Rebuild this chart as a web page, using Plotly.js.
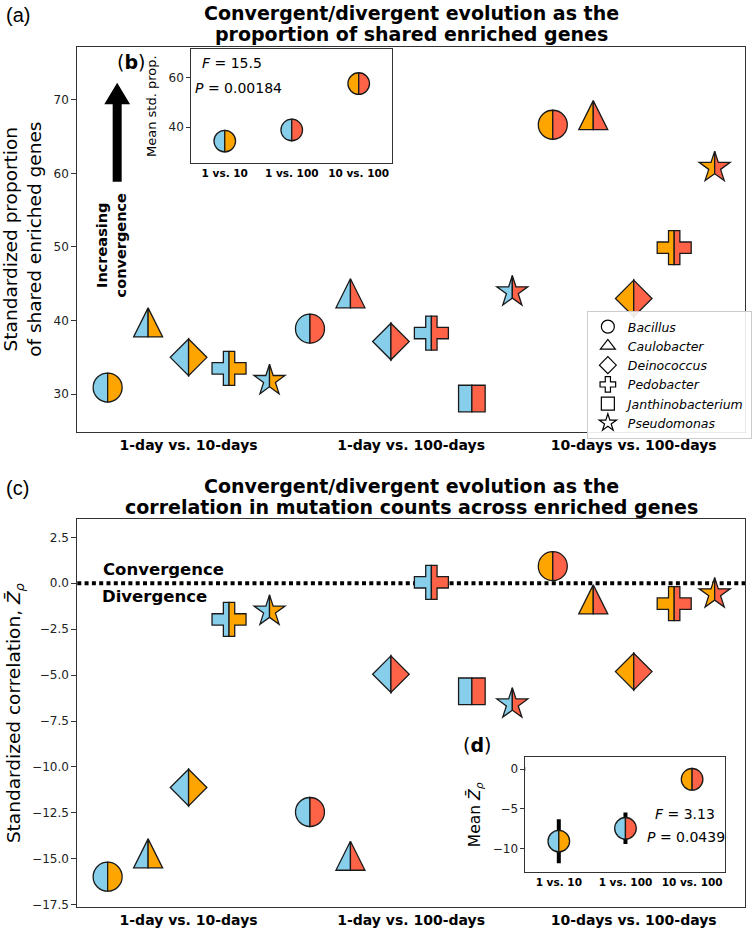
<!DOCTYPE html>
<html><head><meta charset="utf-8">
<script src="https://cdn.plot.ly/plotly-3.0.1.min.js"></script>
<style>body{margin:0;background:#fff}#chart{width:752px;height:939px}</style>
</head><body><div id="chart"></div>
<script>
// ---------------- DATA ----------------
const comparisons = ['1-day vs. 10-days', '1-day vs. 100-days', '10-days vs. 100-days'];
const insetLabels = ['1 vs. 10', '1 vs. 100', '10 vs. 100'];
const species = ['Bacillus', 'Caulobacter', 'Deinococcus', 'Pedobacter', 'Janthinobacterium', 'Pseudomonas'];
const speciesKinds = ['circle', 'triangle', 'diamond', 'cross', 'square', 'star'];
const legendSymbols = ['circle-open', 'triangle-up-open', 'diamond-open', 'cross-open', 'square-open', 'star-open'];

// (a) standardized proportion of shared enriched genes, per comparison
const propBacillus = [30.9, 38.9, 66.6];
const propCaulobacter = [39.75, 43.7, 67.9];
const propDeinococcus = [35.0, 37.15, 43.0];
const propPedobacter = [33.5, 38.3, 49.9];
const propJanthinobacterium = [null, 29.4, null];
const propPseudomonas = [31.85, 43.9, 60.8];

// (c) standardized correlation, per comparison
const corrBacillus = [-15.97, -12.45, 0.93];
const corrCaulobacter = [-14.7, -14.83, -0.88];
const corrDeinococcus = [-11.12, -4.95, -4.81];
const corrPedobacter = [-1.97, 0.05, -1.11];
const corrJanthinobacterium = [null, -5.88, null];
const corrPseudomonas = [-1.52, -6.57, -0.58];

// (b) and (d) insets
const meanProp = [34.3, 38.8, 57.6];
const meanCorr = [-9.05, -7.44, -1.29];
const meanCorrErr = [2.76, 1.97, 0.9];

const leftColors = ['#87CEEB', '#87CEEB', '#FFA500'];
const rightColors = ['#FFA500', '#FF6347', '#FF6347'];

const propBySpecies = [propBacillus, propCaulobacter, propDeinococcus, propPedobacter, propJanthinobacterium, propPseudomonas];
const corrBySpecies = [corrBacillus, corrCaulobacter, corrDeinococcus, corrPedobacter, corrJanthinobacterium, corrPseudomonas];

// ---------------- HELPERS ----------------
const FONT = 'DejaVu Sans';
const GEOM = {circle: 14.5, triangle: 14.5, diamond: 18.3, cross: 17, square: 13.3, star: 16.3};
const EDGE = '#1a1a1a';

function halfPath(kind, side, a) {
  const P = (x, y) => (side * x === 0 ? 0 : side * x).toFixed(2) + ',' + y.toFixed(2);
  if (kind === 'circle') {
    const k = 0.5523;
    return 'M' + P(0, a) + ' C' + P(k * a, a) + ' ' + P(a, k * a) + ' ' + P(a, 0) +
      ' C' + P(a, -k * a) + ' ' + P(k * a, -a) + ' ' + P(0, -a) + ' Z';
  }
  let pts;
  if (kind === 'triangle') pts = [[0, a], [a, -a], [0, -a]];
  else if (kind === 'diamond') pts = [[0, a], [a, 0], [0, -a]];
  else if (kind === 'square') pts = [[0, a], [a, a], [a, -a], [0, -a]];
  else if (kind === 'cross') { const w = a / 3; pts = [[0, a], [w, a], [w, w], [a, w], [a, -w], [w, -w], [w, -a], [0, -a]]; }
  else if (kind === 'star') {
    const ri = a * 0.381966; pts = [[0, a]];
    for (let i = 1; i <= 4; i++) {
      const ang = (90 - 36 * i) * Math.PI / 180; const r = (i % 2) ? ri : a;
      pts.push([r * Math.cos(ang), r * Math.sin(ang)]);
    }
    pts.push([0, -ri]);
  }
  return 'M' + pts.map(p => P(p[0], p[1])).join(' L') + ' Z';
}

function halfShapes(xref, yref, x, y, kind, size, cIdx) {
  const base = {type: 'path', xref: xref, yref: yref, xsizemode: 'pixel', ysizemode: 'pixel',
    xanchor: x, yanchor: y, layer: 'above', line: {color: EDGE, width: 1.3}};
  return [
    Object.assign({}, base, {path: halfPath(kind, -1, size), fillcolor: leftColors[cIdx]}),
    Object.assign({}, base, {path: halfPath(kind, 1, size), fillcolor: rightColors[cIdx]})
  ];
}

function layoutPoints(bySpecies) {
  const pts = []; const groups = [[], [], []]; let idx = 0;
  for (let c = 0; c < comparisons.length; c++) {
    for (let s = 0; s < species.length; s++) {
      const v = bySpecies[s][c];
      if (v === null) continue;
      pts.push({c: c, s: s, x: idx, y: v}); groups[c].push(idx); idx++;
    }
  }
  const ticks = groups.map(g => (g[0] + g[g.length - 1]) / 2);
  return {pts: pts, ticks: ticks, n: idx};
}

const A = layoutPoints(propBySpecies);
const C = layoutPoints(corrBySpecies);

const traces = [];
const shapes = [];

function addMain(L, xa, ya, label) {
  for (let s = 0; s < species.length; s++) {
    const p = L.pts.filter(q => q.s === s);
    traces.push({type: 'scatter', mode: 'markers', x: p.map(q => q.x), y: p.map(q => q.y),
      xaxis: xa, yaxis: ya, name: species[s], showlegend: false,
      marker: {size: 28, opacity: 0}, hovertemplate: species[s] + ' ' + label + ': %{y}<extra></extra>'});
    p.forEach(q => halfShapes(xa, ya, q.x, q.y, speciesKinds[s], GEOM[speciesKinds[s]], q.c).forEach(sh => shapes.push(sh)));
  }
}
addMain(A, 'x', 'y', 'prop');
addMain(C, 'x3', 'y3', 'corr');

// legend entries
for (let s = 0; s < species.length; s++) {
  traces.push({type: 'scatter', mode: 'markers', x: [null], y: [null], xaxis: 'x', yaxis: 'y',
    name: species[s], showlegend: true,
    marker: {symbol: legendSymbols[s], size: 13, color: '#000', line: {color: '#000', width: 1.2}}});
}

// inset (b)
const insetX = insetLabels.map((_, i) => i);
traces.push({type: 'scatter', mode: 'markers', x: insetX, y: meanProp, xaxis: 'x2', yaxis: 'y2',
  showlegend: false, marker: {size: 21, opacity: 0}});
insetX.forEach((x, i) => halfShapes('x2', 'y2', x, meanProp[i], 'circle', 10.8, i).forEach(sh => shapes.push(sh)));

// inset (d)
traces.push({type: 'scatter', mode: 'markers', x: insetX, y: meanCorr, xaxis: 'x4', yaxis: 'y4',
  showlegend: false, marker: {size: 21, opacity: 0},
  error_y: {type: 'data', array: meanCorrErr, visible: true, color: '#000', thickness: 4, width: 0}});
insetX.forEach((x, i) => halfShapes('x4', 'y4', x, meanCorr[i], 'circle', 10.8, i).forEach(sh => shapes.push(sh)));

// reference lines at zero
shapes.push({type: 'line', xref: 'x3 domain', yref: 'y3', x0: 0, x1: 1, y0: 0, y1: 0, layer: 'below',
  line: {color: '#000', width: 4, dash: '4px,3.3px'}});
shapes.push({type: 'line', xref: 'x4 domain', yref: 'y4', x0: 0, x1: 1, y0: 0, y1: 0, layer: 'below',
  line: {color: '#000', width: 4, dash: '4px,3.3px'}});

// big arrow (decoration)
shapes.push({type: 'path', xref: 'paper', yref: 'paper', xsizemode: 'pixel', ysizemode: 'pixel',
  xanchor: 117.8 / 752, yanchor: 1 - 82.7 / 939, layer: 'above',
  path: 'M0,0 L12.9,-21.6 L4.5,-21.6 L4.5,-99 L-4.5,-99 L-4.5,-21.6 L-12.9,-21.6 Z',
  fillcolor: '#000', line: {width: 0}});

const W = 752, H = 939;
const px = v => v / W, py = v => 1 - v / H;
const LINE = '#333';

function mainX(anchor, ticks) {
  return {domain: [px(77.7), px(749)], anchor: anchor, range: [-0.75, 15.75],
    tickmode: 'array', tickvals: ticks, ticktext: comparisons, ticks: '',
    tickfont: {family: FONT, size: 14, color: '#000', weight: 'bold'},
    showline: true, mirror: true, linecolor: LINE, linewidth: 1, showgrid: false, zeroline: false};
}
function yBase() {
  return {ticks: 'outside', ticklen: 5, tickwidth: 1, tickcolor: LINE, showline: true, mirror: true,
    linecolor: LINE, linewidth: 1, showgrid: false, zeroline: false,
    tickfont: {family: FONT, size: 12, color: '#222'}};
}

const layout = {
  width: W, height: H, margin: {l: 0, r: 0, t: 0, b: 0},
  paper_bgcolor: '#fff', plot_bgcolor: '#fff', font: {family: FONT, color: '#000'},
  showlegend: true,
  legend: {x: px(590), y: py(311), xanchor: 'left', yanchor: 'top', bgcolor: 'rgba(255,255,255,0.9)',
    bordercolor: '#cccccc', borderwidth: 1, itemsizing: 'trace', tracegroupgap: 0,
    font: {family: FONT, size: 12.5, style: 'italic', color: '#000'}},
  xaxis: mainX('y', A.ticks),
  yaxis: Object.assign(yBase(), {domain: [py(431.7), py(46.7)], anchor: 'x', range: [24.9, 77.2], dtick: 10, tick0: 0,
    title: {text: 'Standardized proportion<br>of shared enriched genes', font: {family: FONT, size: 18.5, color: '#000'}, standoff: 9}}),
  xaxis3: mainX('y3', C.ticks),
  yaxis3: Object.assign(yBase(), {domain: [py(907), py(519.3)], anchor: 'x3', range: [-17.62, 3.48], dtick: 2.5, tick0: 0, tickformat: '.1f',
    title: {text: 'Standardized correlation, <i>Z\u0304</i><sub><i>ρ</i></sub>', font: {family: FONT, size: 18.5, color: '#000'}, standoff: 6}}),
  xaxis2: {domain: [px(192.3), px(394.3)], anchor: 'y2', range: [-0.5, 2.5], tickmode: 'array', tickvals: insetX, ticktext: insetLabels,
    ticks: '', tickfont: {family: FONT, size: 10.5, color: '#000', weight: 'bold'},
    showline: true, mirror: true, linecolor: LINE, linewidth: 1, showgrid: false, zeroline: false},
  yaxis2: Object.assign(yBase(), {domain: [py(163.3), py(49)], anchor: 'x2', range: [25.3, 71.6], dtick: 20, tick0: 0, ticklen: 4,
    title: {text: 'Mean std. prop.', font: {family: FONT, size: 13, color: '#000'}, standoff: 9}}),
  xaxis4: {domain: [px(528.3), px(729.3)], anchor: 'y4', range: [-0.5, 2.5], tickmode: 'array', tickvals: insetX, ticktext: insetLabels,
    ticks: '', tickfont: {family: FONT, size: 10.5, color: '#000', weight: 'bold'},
    showline: true, mirror: true, linecolor: LINE, linewidth: 1, showgrid: false, zeroline: false},
  yaxis4: Object.assign(yBase(), {domain: [py(872.3), py(757.3)], anchor: 'x4', range: [-12.96, 1.47], dtick: 5, tick0: 0, ticklen: 4,
    title: {text: 'Mean <i>Z\u0304</i><sub><i>ρ</i></sub>', font: {family: FONT, size: 15.5, color: '#000'}, standoff: 8}}),
  shapes: shapes,
  annotations: [
    {xref: 'paper', yref: 'paper', x: px(4), y: py(15), xanchor: 'left', yanchor: 'middle', showarrow: false,
      text: '(a)', font: {family: 'Liberation Sans', size: 20, color: '#000'}},
    {xref: 'paper', yref: 'paper', x: px(413.4), y: py(13), xanchor: 'center', yanchor: 'middle', showarrow: false,
      text: 'Convergent/divergent evolution as the', font: {family: FONT, size: 19, color: '#000', weight: 'bold'}},
    {xref: 'paper', yref: 'paper', x: px(413.4), y: py(34), xanchor: 'center', yanchor: 'middle', showarrow: false,
      text: 'proportion of shared enriched genes', font: {family: FONT, size: 19, color: '#000', weight: 'bold'}},
    {xref: 'paper', yref: 'paper', x: px(116), y: py(62), xanchor: 'left', yanchor: 'middle', showarrow: false,
      text: '(<b>b</b>)', font: {family: FONT, size: 19, color: '#000'}},
    {xref: 'paper', yref: 'paper', x: px(112), y: py(245), xanchor: 'center', yanchor: 'middle', showarrow: false, textangle: -90,
      text: 'Increasing<br>convergence', font: {family: FONT, size: 14.5, color: '#000', weight: 'bold'}},
    {xref: 'paper', yref: 'paper', x: px(201), y: py(63), xanchor: 'left', yanchor: 'middle', showarrow: false,
      text: '<i>F</i> = 15.5', font: {family: FONT, size: 14, color: '#000'}},
    {xref: 'paper', yref: 'paper', x: px(194), y: py(88), xanchor: 'left', yanchor: 'middle', showarrow: false,
      text: '<i>P</i> = 0.00184', font: {family: FONT, size: 14, color: '#000'}},
    {xref: 'paper', yref: 'paper', x: px(4), y: py(488), xanchor: 'left', yanchor: 'middle', showarrow: false,
      text: '(c)', font: {family: 'Liberation Sans', size: 20, color: '#000'}},
    {xref: 'paper', yref: 'paper', x: px(413.4), y: py(485.5), xanchor: 'center', yanchor: 'middle', showarrow: false,
      text: 'Convergent/divergent evolution as the', font: {family: FONT, size: 19, color: '#000', weight: 'bold'}},
    {xref: 'paper', yref: 'paper', x: px(413.4), y: py(506.5), xanchor: 'center', yanchor: 'middle', showarrow: false,
      text: 'correlation in mutation counts across enriched genes', font: {family: FONT, size: 19, color: '#000', weight: 'bold'}},
    {xref: 'paper', yref: 'paper', x: px(102), y: py(569.5), xanchor: 'left', yanchor: 'middle', showarrow: false,
      text: 'Convergence', font: {family: FONT, size: 16.5, color: '#000', weight: 'bold'}},
    {xref: 'paper', yref: 'paper', x: px(101), y: py(596), xanchor: 'left', yanchor: 'middle', showarrow: false,
      text: 'Divergence', font: {family: FONT, size: 16.5, color: '#000', weight: 'bold'}},
    {xref: 'paper', yref: 'paper', x: px(463), y: py(745), xanchor: 'left', yanchor: 'middle', showarrow: false,
      text: '(<b>d</b>)', font: {family: FONT, size: 19, color: '#000'}},
    {xref: 'paper', yref: 'paper', x: px(689), y: py(814), xanchor: 'center', yanchor: 'middle', showarrow: false,
      text: '<i>F</i> = 3.13', font: {family: FONT, size: 14, color: '#000'}},
    {xref: 'paper', yref: 'paper', x: px(689.5), y: py(837), xanchor: 'center', yanchor: 'middle', showarrow: false,
      text: '<i>P</i> = 0.0439', font: {family: FONT, size: 14, color: '#000'}}
  ]
};

Plotly.newPlot('chart', traces, layout, {staticPlot: true, displayModeBar: false});
</script>
</body></html>
